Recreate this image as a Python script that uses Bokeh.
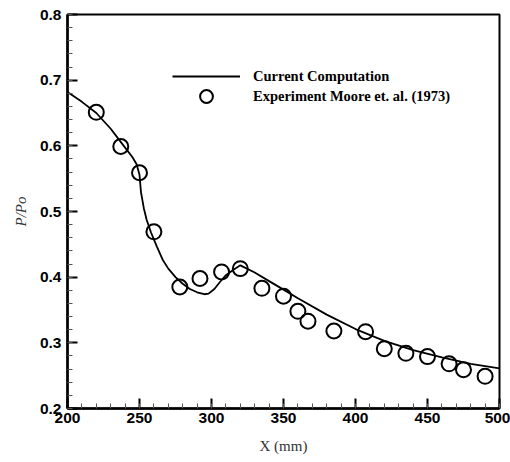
from bokeh.plotting import figure
from bokeh.models import Legend, LegendItem, FixedTicker, Range1d
from bokeh.embed import file_html
from bokeh.resources import INLINE

# Computed curve
curve_x = [200, 210, 220, 230, 238, 245, 248, 250, 251, 253, 255, 258, 262, 266, 270,
           275, 280, 285, 290, 295, 298, 302, 306, 310, 315, 320, 330, 340, 350, 360,
           380, 400, 420, 440, 460, 480, 500]
curve_y = [0.682, 0.667, 0.650, 0.626, 0.603, 0.583, 0.572, 0.556, 0.530, 0.505, 0.487,
           0.468, 0.447, 0.427, 0.413, 0.400, 0.390, 0.382, 0.377, 0.374, 0.375, 0.382,
           0.393, 0.403, 0.411, 0.418, 0.407, 0.394, 0.381, 0.368, 0.343, 0.321, 0.303,
           0.289, 0.278, 0.268, 0.261]

# Experiment Moore et al. (1973)
exp_x = [220, 237, 250, 260, 278, 292, 307, 320, 335, 350, 360, 367, 385, 407, 420,
         435, 450, 465, 475, 490]
exp_y = [0.651, 0.599, 0.559, 0.469, 0.385, 0.398, 0.408, 0.413, 0.383, 0.371, 0.348,
         0.333, 0.318, 0.317, 0.291, 0.284, 0.279, 0.268, 0.259, 0.249]

x_ticks = [200, 250, 300, 350, 400, 450, 500]
y_ticks = [0.2, 0.3, 0.4, 0.5, 0.6, 0.7, 0.8]
x_minor = [v for v in range(200, 501, 10)]
y_minor = [round(0.2 + 0.02 * i, 2) for i in range(31)]

p = figure(width=510, height=462, output_backend="svg", toolbar_location=None,
           x_range=Range1d(200, 500), y_range=Range1d(0.2, 0.8),
           min_border_left=67, min_border_right=11, min_border_top=14, min_border_bottom=54)
p.xgrid.visible = False
p.ygrid.visible = False
p.outline_line_color = "black"
p.outline_line_width = 2
p.background_fill_color = "white"
p.border_fill_color = "white"

for ax, ticks, minor in ((p.xaxis[0], x_ticks, x_minor), (p.yaxis[0], y_ticks, y_minor)):
    ax.ticker = FixedTicker(ticks=ticks, minor_ticks=minor)
    ax.axis_line_width = 2.5
    ax.axis_line_color = "black"
    ax.major_tick_in = 10
    ax.major_tick_out = 0
    ax.major_tick_line_width = 2
    ax.minor_tick_in = 5
    ax.minor_tick_out = 0
    ax.minor_tick_line_color = "#555555"
    ax.minor_tick_line_width = 1
    ax.major_label_text_font = "Liberation Sans"
    ax.major_label_text_font_style = "bold"
    ax.major_label_text_font_size = "15.5px"
    ax.major_label_text_color = "black"
    ax.axis_label_text_font = "Liberation Serif"
    ax.axis_label_text_font_size = "15px"
    ax.axis_label_text_color = "#333333"

p.xaxis[0].major_label_standoff = 4
p.yaxis[0].major_label_standoff = 6
p.xaxis[0].axis_label = "X (mm)"
p.xaxis[0].axis_label_text_font_style = "normal"
p.xaxis[0].axis_label_standoff = 12
p.yaxis[0].axis_label = "P/Po"
p.yaxis[0].axis_label_text_font_style = "italic"
p.yaxis[0].axis_label_standoff = 8

line_r = p.line(curve_x, curve_y, line_color="black", line_width=1.8)
circ_r = p.scatter(exp_x, exp_y, marker="circle", size=15, fill_alpha=0,
                   line_color="black", line_width=2)

common = dict(orientation="vertical", glyph_width=68, label_height=20, spacing=0,
              padding=0, margin=0, label_standoff=13,
              label_text_font="Liberation Serif", label_text_font_style="bold",
              label_text_font_size="14.5px", label_text_color="black",
              border_line_alpha=0, background_fill_alpha=0)
legend1 = Legend(items=[LegendItem(label="Current Computation", renderers=[line_r])],
                 location=(105, 322), glyph_height=20, **common)
legend2 = Legend(items=[LegendItem(label="Experiment Moore et. al. (1973)", renderers=[circ_r])],
                 location=(105, 296), glyph_height=32, **common)
p.add_layout(legend1, "center")
p.add_layout(legend2, "center")

open("out.html", "w").write(file_html(p, INLINE))
